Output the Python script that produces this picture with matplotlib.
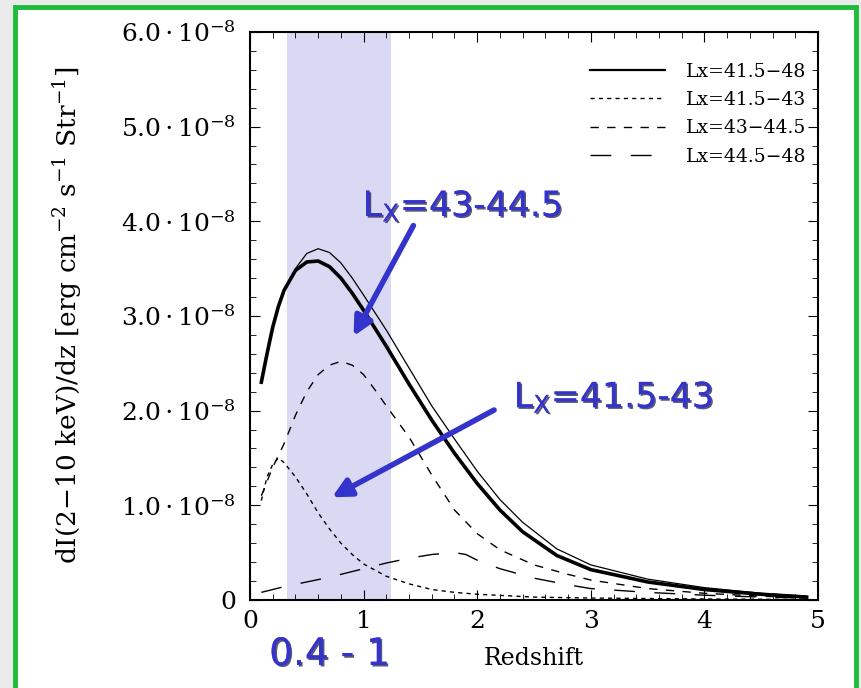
import numpy as np
import matplotlib
matplotlib.use("Agg")
import matplotlib.pyplot as plt
import matplotlib.patheffects as pe
from matplotlib.patches import Rectangle
from matplotlib.ticker import FuncFormatter, MultipleLocator

# values, y in units of 1e-8
z_total = [0.1, 0.15, 0.2, 0.25, 0.3, 0.4, 0.5, 0.6, 0.7, 0.8, 0.9, 1.0, 1.2, 1.4, 1.6, 1.8,
           2.0, 2.2, 2.4, 2.7, 3.0, 3.5, 4.0, 4.5, 4.9]
total = [2.3, 2.6, 2.88, 3.1, 3.27, 3.48, 3.57, 3.58, 3.52, 3.4, 3.24, 3.06, 2.68, 2.28, 1.9, 1.55,
         1.23, 0.95, 0.72, 0.47, 0.32, 0.19, 0.11, 0.06, 0.03]

z_upper = [0.4, 0.5, 0.6, 0.7, 0.8, 0.9, 1.0, 1.2, 1.4, 1.6, 1.8, 2.0, 2.2, 2.4,
           2.7, 3.0, 3.5, 4.0, 4.5, 4.9]
upper = [3.5, 3.66, 3.71, 3.67, 3.56, 3.4, 3.22, 2.85, 2.45, 2.05, 1.7, 1.36, 1.06, 0.82,
         0.54, 0.37, 0.22, 0.13, 0.07, 0.04]

z_low = [0.1, 0.15, 0.2, 0.25, 0.3, 0.4, 0.5, 0.6, 0.7, 0.8, 0.9, 1.0, 1.2, 1.4,
         1.6, 1.8, 2.0, 2.5, 3.0, 4.0, 4.9]
low = [1.05, 1.3, 1.43, 1.5, 1.45, 1.3, 1.12, 0.92, 0.75, 0.6, 0.48, 0.38, 0.25, 0.17,
       0.11, 0.08, 0.06, 0.03, 0.02, 0.01, 0.005]

z_mid = [0.1, 0.2, 0.3, 0.4, 0.5, 0.6, 0.7, 0.8, 0.9, 1.0, 1.1, 1.2, 1.4, 1.6,
         1.8, 2.0, 2.2, 2.5, 2.8, 3.0, 3.5, 4.0, 4.5, 4.9]
mid = [1.1, 1.4, 1.65, 1.95, 2.2, 2.38, 2.48, 2.52, 2.48, 2.38, 2.22, 2.05, 1.72, 1.32,
       0.95, 0.7, 0.53, 0.37, 0.27, 0.21, 0.12, 0.07, 0.04, 0.02]

z_high = [0.1, 0.3, 0.5, 0.7, 1.0, 1.2, 1.4, 1.6, 1.8, 1.9, 2.0, 2.2, 2.5, 2.8,
          3.0, 3.5, 4.0, 4.5, 4.9]
high = [0.08, 0.14, 0.19, 0.24, 0.33, 0.39, 0.44, 0.48, 0.5, 0.48, 0.42, 0.33, 0.23, 0.16,
        0.12, 0.08, 0.05, 0.03, 0.02]

labels = ["Lx=41.5\u221248", "Lx=41.5\u221243", "Lx=43\u221244.5", "Lx=44.5\u221248"]
band = (0.33, 1.24)
blue = "#3434cc"

plt.rcParams["mathtext.fontset"] = "dejavuserif"
plt.rcParams["font.family"] = "DejaVu Serif"

fig = plt.figure(figsize=(8.62, 6.88), dpi=100, facecolor="#ebebeb")
fig.patches.append(Rectangle((15 / 862, -0.01), 841 / 862, 1.0, transform=fig.transFigure,
                             facecolor="white", edgecolor="#1fbb3a", lw=3.5, zorder=-1))

ax = fig.add_axes([0.290, 0.128, 0.659, 0.8256])
ax.set_xlim(0, 5)
ax.set_ylim(0, 6e-8)

s = 1e-8
ax.axvspan(band[0], band[1], color="#d9d9f3", lw=0, zorder=0)
ax.plot(z_total, np.array(total) * s, color="black", lw=2.6, label=labels[0])
ax.plot(z_upper, np.array(upper) * s, color="black", lw=0.9)
ax.plot(z_low, np.array(low) * s, color="black", lw=1, ls=(0, (3, 3)), label=labels[1])
ax.plot(z_mid, np.array(mid) * s, color="black", lw=1, ls=(0, (6, 6)), label=labels[2])
ax.plot(z_high, np.array(high) * s, color="black", lw=1, ls=(0, (15, 14)), label=labels[3])

def fmt(v, pos):
    if abs(v) < 1e-12:
        return "0"
    return r"$%.1f\,{\cdot}\,10^{-8}$" % (v / 1e-8)

ax.yaxis.set_major_locator(MultipleLocator(1e-8))
ax.yaxis.set_minor_locator(MultipleLocator(0.2e-8))
ax.yaxis.set_major_formatter(FuncFormatter(fmt))
ax.xaxis.set_major_locator(MultipleLocator(1))
ax.xaxis.set_minor_locator(MultipleLocator(0.2))
ax.tick_params(which="both", direction="in", top=True, right=True, labelsize=18)
ax.tick_params(which="major", length=7)
ax.tick_params(which="minor", length=4)
ax.tick_params(axis="y", pad=10)
ax.tick_params(axis="x", pad=7)
for sp in ax.spines.values():
    sp.set_linewidth(1.5)

ax.set_xlabel("Redshift", fontsize=17, labelpad=10)
ax.set_ylabel(r"dI(2$-$10 keV)/dz [erg cm$^{-2}$ s$^{-1}$ Str$^{-1}$]", fontsize=19, labelpad=27)

leg = ax.legend(loc="upper right", bbox_to_anchor=(1.012, 0.979), frameon=False,
                fontsize=13.5, handlelength=4.0, handletextpad=1.1,
                labelspacing=0.55, borderaxespad=0.6)
leg.get_lines()[0].set_linewidth(1.6)

shadow = [pe.withSimplePatchShadow(offset=(1.2, -1.2), shadow_rgbFace="#101040", alpha=0.7), pe.Normal()]
ax.annotate("", xy=(0.90, 2.76e-8), xytext=(1.45, 3.98e-8),
            arrowprops=dict(arrowstyle="-|>", lw=4, color=blue, mutation_scale=28))
ax.annotate("", xy=(0.70, 1.07e-8), xytext=(2.17, 2.02e-8),
            arrowprops=dict(arrowstyle="-|>", lw=4, color=blue, mutation_scale=28))
ax.text(1.87, 4.16e-8, r"L$_\mathregular{X}$=43-44.5", color=blue, fontsize=25,
        family="DejaVu Sans", ha="center", va="center", path_effects=shadow)
ax.text(3.2, 2.14e-8, r"L$_\mathregular{X}$=41.5-43", color=blue, fontsize=25,
        family="DejaVu Sans", ha="center", va="center", path_effects=shadow)
ax.text(0.70, -0.58e-8, "0.4 - 1", color=blue, fontsize=27, family="DejaVu Sans",
        ha="center", va="center", clip_on=False, path_effects=shadow)

fig.savefig("out.png", dpi=100, facecolor=fig.get_facecolor())
